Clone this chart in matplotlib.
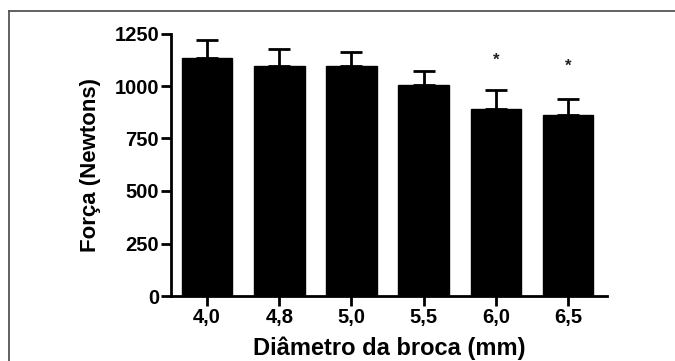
import matplotlib
matplotlib.use("Agg")
import matplotlib.pyplot as plt
from matplotlib.lines import Line2D

categories = ["4,0", "4,8", "5,0", "5,5", "6,0", "6,5"]
means = [1135, 1097, 1095, 1003, 892, 862]
errors = [84, 78, 68, 68, 89, 76]
significant = [False, False, False, False, True, True]
star_values = [None, None, None, None, 1124, 1092]
yticks = [0, 250, 500, 750, 1000, 1250]

plt.rcParams['font.family'] = ['Liberation Sans', 'DejaVu Sans']
plt.rcParams['font.weight'] = 'bold'

W, H = 675, 361
fig = plt.figure(figsize=(W / 100, H / 100), dpi=100)
fig.patch.set_facecolor('white')

left, right, top, bottom = 171, 607, 33.5, 296
ax = fig.add_axes([left / W, 1 - bottom / H, (right - left) / W, (bottom - top) / H])

x = list(range(len(categories)))
ax.bar(x, means, width=0.7, color='black', edgecolor='black', zorder=2)
ax.errorbar(x, means, yerr=[[0] * len(means), errors], fmt='none',
            ecolor='black', elinewidth=2.0, capsize=8, capthick=2.0, zorder=1)

for xi, sig, sv in zip(x, significant, star_values):
    if sig:
        ax.text(xi, sv, '*', ha='center', va='center', fontsize=12,
                fontweight='bold', color='#222222')

ax.set_xlim(-0.5, 5.54)
ax.set_ylim(0, 1250)
ax.set_yticks(yticks)
ax.set_yticklabels([str(v) for v in yticks])
ax.set_xticks(x)
ax.set_xticklabels(categories)

for s in ['top', 'right']:
    ax.spines[s].set_visible(False)
for s in ['left', 'bottom']:
    ax.spines[s].set_linewidth(2.0)
    ax.spines[s].set_color('black')

ax.tick_params(axis='both', which='major', direction='out', length=7, width=2.0,
               labelsize=14.5, pad=1.5, color='black')
for lab in ax.get_xticklabels() + ax.get_yticklabels():
    lab.set_fontweight('bold')

ax.set_ylabel('Força (Newtons)', fontsize=16, fontweight='bold', labelpad=10)
ax.set_xlabel('Diâmetro da broca (mm)', fontsize=17, fontweight='bold', labelpad=7)

# frame lines (left and top only)
fig.add_artist(Line2D([8.5 / W, 8.5 / W], [0, 1 - 11 / H], transform=fig.transFigure,
                      color='#555555', linewidth=1.3))
fig.add_artist(Line2D([8.5 / W, 1], [1 - 11 / H, 1 - 11 / H], transform=fig.transFigure,
                      color='#555555', linewidth=1.3))

fig.savefig('out.png', dpi=100)
